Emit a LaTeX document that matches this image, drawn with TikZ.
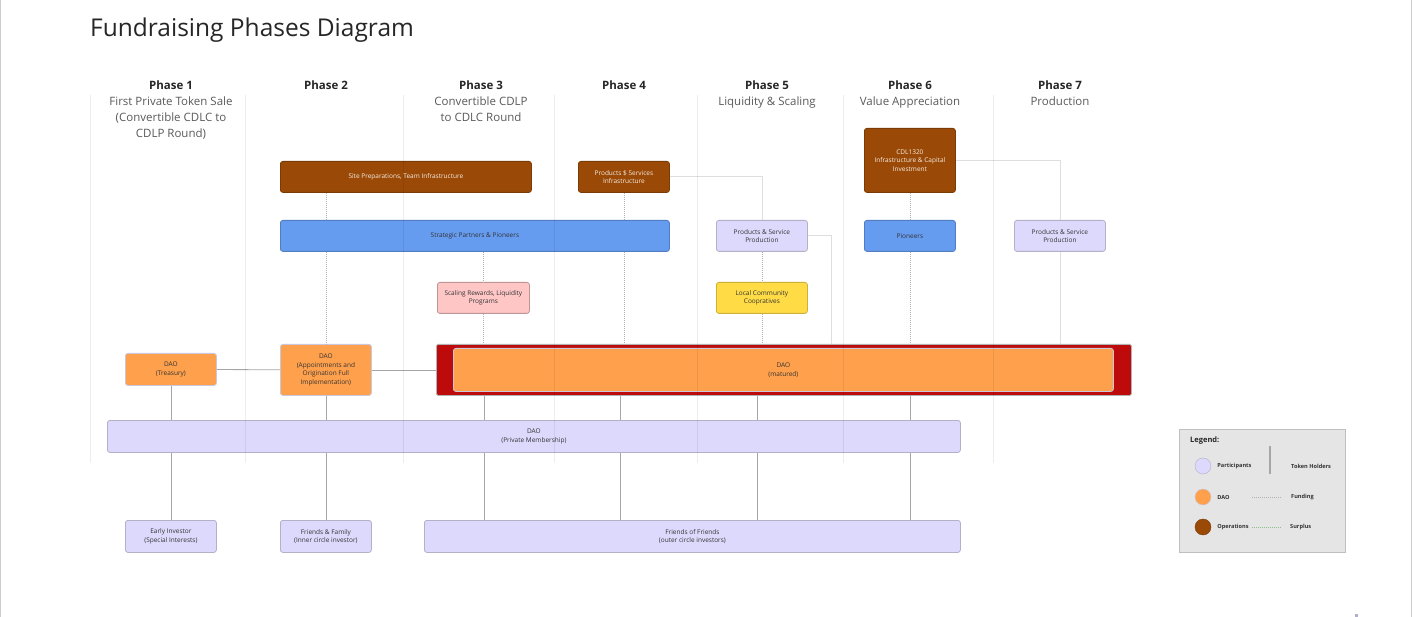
\documentclass[tikz,border=0pt]{standalone}
\usepackage{fontspec}
\setmainfont{Open Sans}
\usetikzlibrary{positioning}
\definecolor{opsbrown}{HTML}{9A4A06}
\definecolor{partnerblue}{HTML}{669CF0}
\definecolor{lavender}{HTML}{DCD9FC}
\definecolor{daoorange}{HTML}{FFA04C}
\definecolor{rewardpink}{HTML}{FFC6C6}
\definecolor{coopyellow}{HTML}{FFDC46}
\definecolor{maturedred}{HTML}{BD0B0B}
\definecolor{textdark}{HTML}{333333}
\definecolor{surplusgreen}{HTML}{8CBF8C}
\newcommand\boxfont{\fontsize{6.5}{8.6}\selectfont}

\begin{document}
\begin{tikzpicture}[
    x=1pt, y=-1pt,
    every node/.style={font=\boxfont, inner sep=1pt, text=textdark},
    box/.style={rectangle, rounded corners=2.5pt, line width=0.8pt, anchor=north west, align=center},
    opsbox/.style={box, fill=opsbrown, draw=opsbrown!80!black, text=white!90!opsbrown},
    partnerbox/.style={box, fill=partnerblue, draw=partnerblue!80!black, text=black!80},
    memberbox/.style={box, fill=lavender, draw=black!25!lavender!85},
    daobox/.style={box, fill=daoorange, draw=black!15!lavender!80},
    rewardbox/.style={box, fill=rewardpink, draw=rewardpink!75!black},
    coopbox/.style={box, fill=coopyellow, draw=coopyellow!80!black},
    phasehead/.style={font=\bfseries\fontsize{11.5}{14}\selectfont, text=black!85},
    phasesub/.style={font=\fontsize{11.5}{16}\selectfont, text=black!65, align=center},
    holder/.style={draw=black!35, line width=0.8pt},
    funding/.style={draw=black!30, line width=0.8pt, dash pattern=on 1pt off 1pt},
    surplus/.style={draw=black!13, line width=0.8pt},
    lane/.style={draw=black, draw opacity=0.07, line width=1pt},
    keytext/.style={font=\bfseries\fontsize{5.6}{7}\selectfont, text=black!80, anchor=west}
]
    \useasboundingbox (0,0) rectangle (1413,617);
    \draw[draw=black!20] (0.5,0) -- (0.5,617);
    \draw[draw=black!20] (1411.5,0) -- (1411.5,617);

    % title and phases
    \node[font=\fontsize{24.5}{29}\selectfont, text=black!85, anchor=west] (title) at (89,30) {Fundraising Phases Diagram};
    \node[phasehead] (ph1) at (171,85) {Phase 1};
    \node[phasehead] (ph2) at (326,85) {Phase 2};
    \node[phasehead] (ph3) at (481,85) {Phase 3};
    \node[phasehead] (ph4) at (624,85) {Phase 4};
    \node[phasehead] (ph5) at (767,85) {Phase 5};
    \node[phasehead] (ph6) at (910,85) {Phase 6};
    \node[phasehead] (ph7) at (1060,85) {Phase 7};
    \node[phasesub, below=5pt of ph1] (sub1) {First Private Token Sale\\(Convertible CDLC to\\CDLP Round)};
    \node[phasesub, below=5pt of ph3] (sub3) {Convertible CDLP\\to CDLC Round};
    \node[phasesub, below=5pt of ph5] (sub5) {Liquidity \& Scaling};
    \node[phasesub, below=5pt of ph6] (sub6) {Value Appreciation};
    \node[phasesub, below=5pt of ph7] (sub7) {Production};

    % operations and partners
    \node[opsbox, minimum width=251pt, minimum height=31pt] (siteprep) at (280,161) {Site Preparations, Team Infrastructure};
    \node[opsbox, minimum width=91pt, minimum height=31pt] (prodinfra) at (578,161) {Products \$ Services\\Infrastructure};
    \node[opsbox, minimum width=91pt, minimum height=64pt] (cdl) at (864,128) {CDL1320\\Infrastructure \& Capital\\Investment};
    \node[partnerbox, minimum width=389pt, minimum height=31pt] (partners) at (280,220) {Strategic Partners \& Pioneers};
    \node[partnerbox, minimum width=91pt, minimum height=31pt] (pioneers) at (864,220) {Pioneers};
    \node[memberbox, minimum width=91pt, minimum height=31pt] (prodsvc) at (716,220) {Products \& Service\\Production};
    \node[memberbox, minimum width=91pt, minimum height=31pt] (prodsvc7) at (1014,220) {Products \& Service\\Production};
    \node[rewardbox, minimum width=92pt, minimum height=31pt] (rewards) at (437,282) {Scaling Rewards, Liquidity\\Programs};
    \node[coopbox, minimum width=91pt, minimum height=31pt] (local) at (716,282) {Local Community\\Coopratives};

    % DAO stages
    \node[daobox, minimum width=91pt, minimum height=32pt] (treasury) at (125,353) {DAO\\(Treasury)};
    \node[daobox, minimum width=91pt, minimum height=51pt] (appoint) at (280,344) {DAO\\(Appointments and\\Origination Full\\Implementation)};
    \node[box, fill=maturedred, draw=black!30, rounded corners=1.5pt, minimum width=695pt, minimum height=51pt] (daoframe) at (436,344) {};
    \node[daobox, minimum width=660pt, minimum height=43pt] (matured) at (453,348) {DAO\\(matured)};
    \node[memberbox, minimum width=853pt, minimum height=32pt] (members) at (107,420) {DAO\\(Private Membership)};

    % investors
    \node[memberbox, minimum width=91pt, minimum height=32pt] (early) at (125,520) {Early Investor\\(Special Interests)};
    \node[memberbox, minimum width=91pt, minimum height=32pt] (family) at (280,520) {Friends \& Family\\(Inner circle investor)};
    \node[memberbox, minimum width=536pt, minimum height=32pt] (friends) at (424,520) {Friends of Friends\\(outer circle investors)};

    \coordinate (h3) at (484.5,0);
    \coordinate (h4) at (620.5,0);
    \coordinate (h5) at (757,0);
    \coordinate (h6) at (910,0);
    \coordinate (s5) at (831,0);

    % token holders
    \draw[holder] (treasury) -- (appoint);
    \draw[holder] (appoint) -- (daoframe);
    \draw[holder] (treasury) -- (treasury |- members.north);
    \draw[holder] (treasury |- members.south) -- (early);
    \draw[holder] (appoint) -- (appoint |- members.north);
    \draw[holder] (appoint |- members.south) -- (family);
    \draw[holder] (h3 |- daoframe.south) -- (h3 |- members.north);
    \draw[holder] (h3 |- members.south) -- (h3 |- friends.north);
    \draw[holder] (h4 |- daoframe.south) -- (h4 |- members.north);
    \draw[holder] (h4 |- members.south) -- (h4 |- friends.north);
    \draw[holder] (h5 |- daoframe.south) -- (h5 |- members.north);
    \draw[holder] (h5 |- members.south) -- (h5 |- friends.north);
    \draw[holder] (h6 |- daoframe.south) -- (h6 |- members.north);
    \draw[holder] (h6 |- members.south) -- (h6 |- friends.north);

    % funding
    \draw[funding] (appoint |- siteprep.south) -- (appoint |- partners.north);
    \draw[funding] (appoint |- partners.south) -- (appoint);
    \draw[funding] (prodinfra) -- (prodinfra |- partners.north);
    \draw[funding] (prodinfra |- partners.south) -- (prodinfra |- daoframe.north);
    \draw[funding] (rewards |- partners.south) -- (rewards);
    \draw[funding] (rewards) -- (rewards |- daoframe.north);
    \draw[funding] (prodsvc) -- (local);
    \draw[funding] (local) -- (local |- daoframe.north);
    \draw[funding] (cdl) -- (pioneers);
    \draw[funding] (pioneers) -- (pioneers |- daoframe.north);

    % surplus
    \draw[surplus] (prodinfra.east) -| (prodsvc.north);
    \draw[surplus] (prodsvc.east) -| (s5 |- daoframe.north);
    \draw[surplus] (cdl.east) -| (prodsvc7.north);
    \draw[surplus] (prodsvc7) -- (prodsvc7 |- daoframe.north);

    % phase lanes
    \draw[lane] (90,95) -- (90,463);
    \draw[lane] (245,95) -- (245,463);
    \draw[lane] (403,95) -- (403,463);
    \draw[lane] (554,95) -- (554,463);
    \draw[lane] (697,95) -- (697,463);
    \draw[lane] (843,95) -- (843,463);
    \draw[lane] (993,95) -- (993,463);

    % legend
    \node[rectangle, fill=black!10, draw=black!25, anchor=north west, minimum width=166pt, minimum height=123pt] (legend) at (1179,429) {};
    \node[font=\bfseries\fontsize{7.5}{9}\selectfont, text=black!85, anchor=west] (legendtitle) at (1189,441) {Legend:};
    \node[circle, fill=lavender, draw=black!25!lavender!85, minimum size=16pt] (keypart) at (1203,466) {};
    \node[circle, fill=daoorange, draw=black!15!lavender!80, minimum size=16pt] (keydao) at (1203,497) {};
    \node[circle, fill=opsbrown, draw=opsbrown!80!black, minimum size=16pt] (keyops) at (1203,527) {};
    \node[keytext, right=5pt of keypart] (partlabel) {Participants};
    \node[keytext, right=5pt of keydao] (daolabel) {DAO};
    \node[keytext, right=5pt of keyops] (opslabel) {Operations};
    \node[keytext] (holderlabel) at (1290,466) {Token Holders};
    \node[keytext] (fundlabel) at (1290,497) {Funding};
    \node[keytext] (surpluslabel) at (1289,527) {Surplus};
    \draw[holder, line width=2pt] (1270,446) -- (1270,474);
    \draw[funding] (1252,497) -- (1281,497);
    \draw[funding, draw=surplusgreen] (1252,527) -- (1281,527);
    \fill[lavender!80!black] (1355,614) rectangle (1358,617);
\end{tikzpicture}
\end{document}
